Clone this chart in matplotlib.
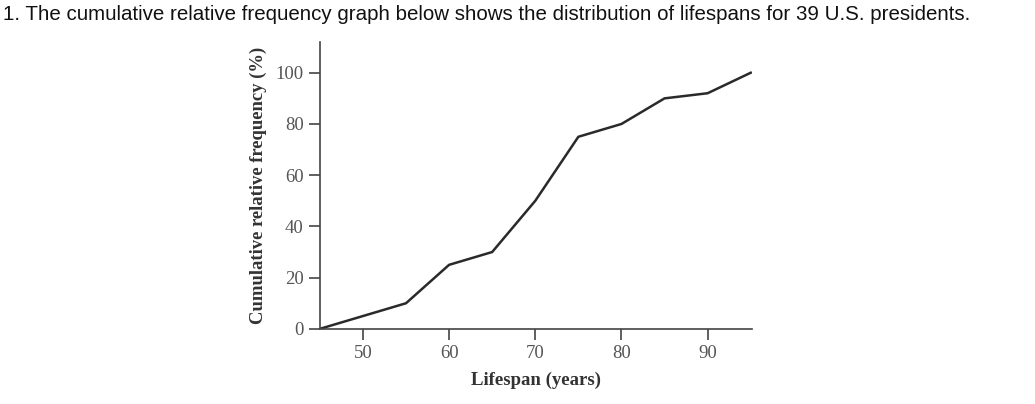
import matplotlib
matplotlib.use("Agg")
import matplotlib.pyplot as plt

# lifespan (years) vs cumulative relative frequency (%)
lifespan = [45, 50, 55, 60, 65, 70, 75, 80, 85, 90, 95]
cum_freq = [0, 5, 10, 25, 30, 50, 75, 80, 90, 92, 100]
xticks = [50, 60, 70, 80, 90]
yticks = [0, 20, 40, 60, 80, 100]

fig = plt.figure(figsize=(10.35, 4.04), dpi=100)
fig.text(0.003, 0.965, "1. The cumulative relative frequency graph below shows the distribution of lifespans for 39 U.S. presidents.",
         family="Liberation Sans", fontsize=14.8, va="center", ha="left", color="#111111")

ax = fig.add_axes([0.309, 0.186, 0.418, 0.71])
ax.plot(lifespan, cum_freq, color="#2a2a2a", lw=1.8)
ax.set_xlim(45, 95.2)
ax.set_ylim(0, 112)
ax.set_xticks(xticks)
ax.set_yticks(yticks)
ax.spines["top"].set_visible(False)
ax.spines["right"].set_visible(False)
for s in ["left", "bottom"]:
    ax.spines[s].set_color("#444444")
    ax.spines[s].set_linewidth(1.2)
ax.tick_params(direction="out", length=8, width=1.2, color="#444444", labelcolor="#555555", labelsize=13.5)
for lbl in ax.get_xticklabels() + ax.get_yticklabels():
    lbl.set_family("Liberation Serif")
ax.set_xlabel("Lifespan (years)", family="Liberation Serif", fontweight="bold", fontsize=13.5, color="#333333", labelpad=7)
ax.set_ylabel("Cumulative relative frequency (%)", family="Liberation Serif", fontweight="bold", fontsize=13.4, color="#333333", labelpad=6)

fig.savefig("out.png", dpi=100)
